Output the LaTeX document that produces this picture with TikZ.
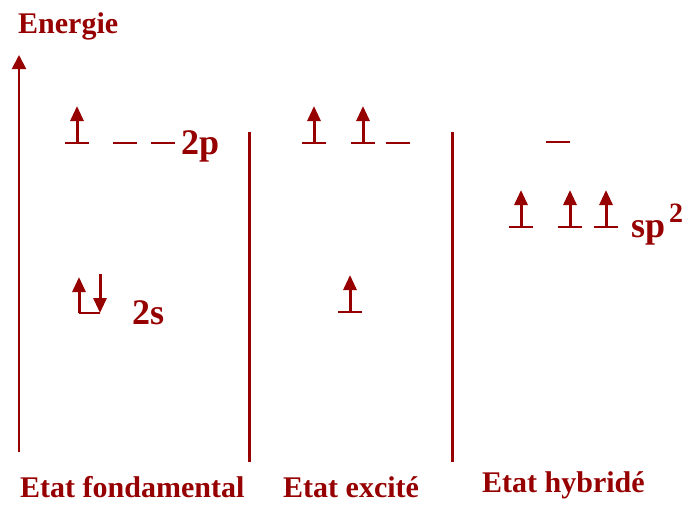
\documentclass[tikz,border=0pt]{standalone}
\usepackage{fontspec}
\setmainfont{Liberation Serif}
\usetikzlibrary{arrows.meta}
\definecolor{dred}{RGB}{150,0,0}
\tikzset{
  every node/.style={text=dred, font=\bfseries\fontsize{30}{34}\selectfont, inner sep=0pt, anchor=base west},
  orb/.style={font=\bfseries\fontsize{36}{40}\selectfont},
  axis/.style={draw=dred, line width=2pt, -{Triangle[width=14pt,length=14pt]}},
  sep/.style={draw=dred, line width=3pt},
  level/.style={draw=dred, line width=2pt},
  elec/.style={draw=dred, line width=3pt, -{Triangle[width=13pt,length=15pt]}},
  upel/.pic={
    \coordinate (-l) at (-12,0);
    \coordinate (-r) at (12,0);
    \coordinate (-t) at (0,-37);
    \coordinate (-b) at (0,0);
    \draw[level] (-l) -- (-r);
    \draw[elec] (-b) -- (-t);
  },
  emptylev/.pic={
    \coordinate (-l) at (-12,0);
    \coordinate (-r) at (12,0);
    \draw[level] (-l) -- (-r);
  }
}
\begin{document}
\begin{tikzpicture}[x=1pt,y=-1pt]
\useasboundingbox (0,0) rectangle (683,504);
% axis
\coordinate (axb) at (19,452);
\coordinate (axt) at (19,55);
\draw[axis] (axb) -- (axt);
\node (energie) at (18,33) {Energie};
% separators
\coordinate (s1t) at (249,132);
\coordinate (s1b) at (249,462);
\coordinate (s2t) at (452,132);
\coordinate (s2b) at (452,462);
\draw[sep] (s1t) -- (s1b);
\draw[sep] (s2t) -- (s2b);
% ground state
\pic (g2p1) at (77,143) {upel};
\pic (g2p2) at (125,143) {emptylev};
\pic (g2p3) at (163,143) {emptylev};
\node[orb] (l2p) at (181,154) {2p};
\coordinate (g2sa) at (79,313);
\coordinate (g2sat) at (79,277);
\coordinate (g2sb) at (100,313);
\coordinate (g2sbt) at (100,274);
\draw[level] (g2sa) -- (g2sb);
\draw[elec] (g2sa) -- (g2sat);
\draw[elec] (g2sbt) -- (g2sb);
\node[orb] (l2s) at (132,324) {2s};
% excited state
\pic (e2p1) at (314,143) {upel};
\pic (e2p2) at (363,143) {upel};
\pic (e2p3) at (398,143) {emptylev};
\pic (e2s) at (350,312) {upel};
% hybrid state
\pic (hp) at (558,142) {emptylev};
\pic (h1) at (521,227) {upel};
\pic (h2) at (570,227) {upel};
\pic (h3) at (606,227) {upel};
\node[orb] (lsp) at (631,237) {sp};
\node[font=\bfseries\fontsize{28}{32}\selectfont] (lsp2) at (669,222) {2};
% state labels
\node (lf) at (20,497) {Etat fondamental};
\node (le) at (283,497) {Etat excité};
\node (lh) at (482,492) {Etat hybridé};
\end{tikzpicture}
\end{document}
